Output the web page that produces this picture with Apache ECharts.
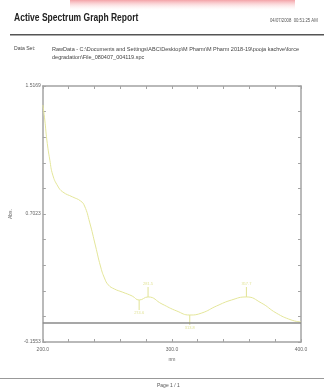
<!DOCTYPE html>
<html>
<head>
<meta charset="utf-8">
<script src="https://cdn.jsdelivr.net/npm/echarts@6/dist/echarts.min.js"></script>
<style>
  html, body { margin: 0; padding: 0; background: #fff; }
  #chart { width: 324px; height: 389px; }
</style>
</head>
<body>
<div id="chart"></div>
<script>
// spectrum (nm, Abs.)
const wavelengths = [200, 201.5, 203.1, 205.4, 207.7, 211.5, 215.4, 223.1, 229.2, 232.3, 236.2, 240.8, 244.6, 247.7, 250.8, 255.4, 261.5, 269.2, 274.6, 281.5, 292.3, 303.8, 313.8, 323.1, 334.6, 346.2, 357.7, 369.2, 380.8, 392.3, 400];
const absorbance = [1.393, 1.295, 1.164, 1.033, 0.935, 0.864, 0.825, 0.792, 0.766, 0.733, 0.628, 0.472, 0.341, 0.263, 0.217, 0.191, 0.171, 0.145, 0.119, 0.139, 0.093, 0.047, 0.021, 0.034, 0.080, 0.119, 0.139, 0.100, 0.034, -0.011, -0.025];

const peakNm = [281.5, 357.7];
const peakAbs = [0.139, 0.139];
const valleyNm = [274.6, 313.8];
const valleyAbs = [0.119, 0.021];

const yMin = -0.1553;
const yMax = 1.5169;
const yLabelTexts = ['-0.1553', '0.7023', '1.5169'];
const xLabelTexts = ['200.0', '300.0', '400.0'];
const baseline = -0.033;

const yStep = (yMax - yMin) / 10;
const yTicks = [];
for (let i = 0; i <= 10; i++) yTicks.push(yMin + yStep * i);
const yLabelVals = [yTicks[0], yTicks[5], yTicks[10]];

const spectrum = wavelengths.map((w, i) => [w, absorbance[i]]);
const peaks = peakNm.map((w, i) => [w, peakAbs[i]]);
const valleys = valleyNm.map((w, i) => [w, valleyAbs[i]]);

const font = "'Liberation Sans', Arial, sans-serif";
const axisCol = '#a3a3a3';
const curveCol = '#e4e69a';

const chart = echarts.init(document.getElementById('chart'), null, { renderer: 'canvas' });

const frameAxis = {
  axisLine: { show: true, onZero: false, lineStyle: { color: axisCol, width: 1.5 } },
  axisTick: { show: true, inside: true, length: 3, lineStyle: { color: axisCol } },
  splitLine: { show: false }
};

chart.setOption({
  backgroundColor: '#fff',
  animation: false,
  grid: { left: 40, top: 86, right: 23, bottom: 47 },
  xAxis: [
    Object.assign({}, frameAxis, {
      type: 'value', min: 200, max: 400, interval: 20,
      name: 'nm', nameLocation: 'middle', nameGap: 14,
      nameTextStyle: { fontSize: 5, color: '#666', fontFamily: font },
      axisLabel: {
        fontSize: 5, color: '#666', fontFamily: font, margin: 5,
        formatter: v => {
          const s = v.toFixed(1);
          return xLabelTexts.indexOf(s) >= 0 ? s : '';
        }
      }
    }),
    Object.assign({}, frameAxis, {
      type: 'value', min: 200, max: 400, interval: 20, position: 'top',
      axisLabel: { show: false }
    })
  ],
  yAxis: [
    Object.assign({}, frameAxis, {
      type: 'value', min: yMin, max: yMax,
      name: 'Abs.', nameLocation: 'middle', nameGap: 24, nameRotate: 90,
      nameTextStyle: { fontSize: 5, color: '#666', fontFamily: font },
      axisTick: { show: true, inside: true, length: 3, lineStyle: { color: axisCol }, customValues: yTicks },
      axisLabel: {
        fontSize: 5, color: '#666', fontFamily: font, margin: 2,
        customValues: yLabelVals,
        formatter: v => {
          let best = 0;
          yLabelVals.forEach((lv, i) => { if (Math.abs(lv - v) < Math.abs(yLabelVals[best] - v)) best = i; });
          return yLabelTexts[best];
        }
      }
    }),
    Object.assign({}, frameAxis, {
      type: 'value', min: yMin, max: yMax, position: 'right',
      axisTick: { show: true, inside: true, length: 3, lineStyle: { color: axisCol }, customValues: yTicks },
      axisLabel: { show: false }
    })
  ],
  series: [
    {
      type: 'line',
      data: spectrum,
      smooth: 0.5,
      showSymbol: false,
      lineStyle: { color: curveCol, width: 1 },
      markLine: {
        silent: true,
        symbol: 'none',
        label: { show: false },
        lineStyle: { color: '#8a8a8a', width: 1.5, type: 'solid' },
        data: [{ yAxis: baseline }]
      }
    },
    {
      type: 'scatter',
      data: peaks,
      symbol: 'rect',
      symbolSize: [1, 10],
      symbolOffset: [0, -5],
      itemStyle: { color: '#d9dc7a' },
      label: {
        show: true, position: 'top', distance: 1,
        fontSize: 4, color: '#d9dc7a', fontFamily: font,
        formatter: p => p.value[0].toFixed(1)
      }
    },
    {
      type: 'scatter',
      data: valleys,
      symbol: 'rect',
      symbolSize: [1, 10],
      symbolOffset: [0, 5],
      itemStyle: { color: '#d9dc7a' },
      label: {
        show: true, position: 'bottom', distance: 1,
        fontSize: 4, color: '#d9dc7a', fontFamily: font,
        formatter: p => p.value[0].toFixed(1)
      }
    }
  ],
  graphic: [
    {
      type: 'rect', left: 70, top: 0, silent: true,
      shape: { width: 225, height: 10 },
      style: {
        fill: new echarts.graphic.LinearGradient(0, 0, 0, 1, [
          { offset: 0, color: 'rgba(232,70,80,0.5)' },
          { offset: 1, color: 'rgba(255,210,210,0)' }
        ])
      }
    },
    {
      type: 'text', x: 14, y: 12, scaleX: 0.74,
      style: { text: 'Active Spectrum Graph Report', font: 'bold 11.5px ' + font, fill: '#222' }
    },
    {
      type: 'text', x: 270, y: 18, scaleX: 0.85,
      style: { text: '04/07/2008  00:51:25 AM', font: '5px ' + font, fill: '#555' }
    },
    {
      type: 'rect', left: 10, top: 34, silent: true,
      shape: { width: 314, height: 1.5 },
      style: { fill: '#555' }
    },
    {
      type: 'text', x: 14, y: 45, scaleX: 0.85,
      style: { text: 'Data Set:', font: '6px ' + font, fill: '#444' }
    },
    {
      type: 'text', x: 52, y: 45, scaleX: 0.92,
      style: {
        text: 'RawData - C:\\Documents and Settings\\ABC\\Desktop\\M Pharm\\M Pharm 2018-19\\pooja kachve\\force\ndegradation\\File_080407_004119.spc',
        font: '6px ' + font, fill: '#444', lineHeight: 8
      }
    },
    {
      type: 'rect', left: 0, top: 378, silent: true,
      shape: { width: 324, height: 1 },
      style: { fill: '#999' }
    },
    {
      type: 'text', x: 157, y: 383,
      style: { text: 'Page 1 / 1', font: '5px ' + font, fill: '#555' }
    }
  ]
});
</script>
</body>
</html>
